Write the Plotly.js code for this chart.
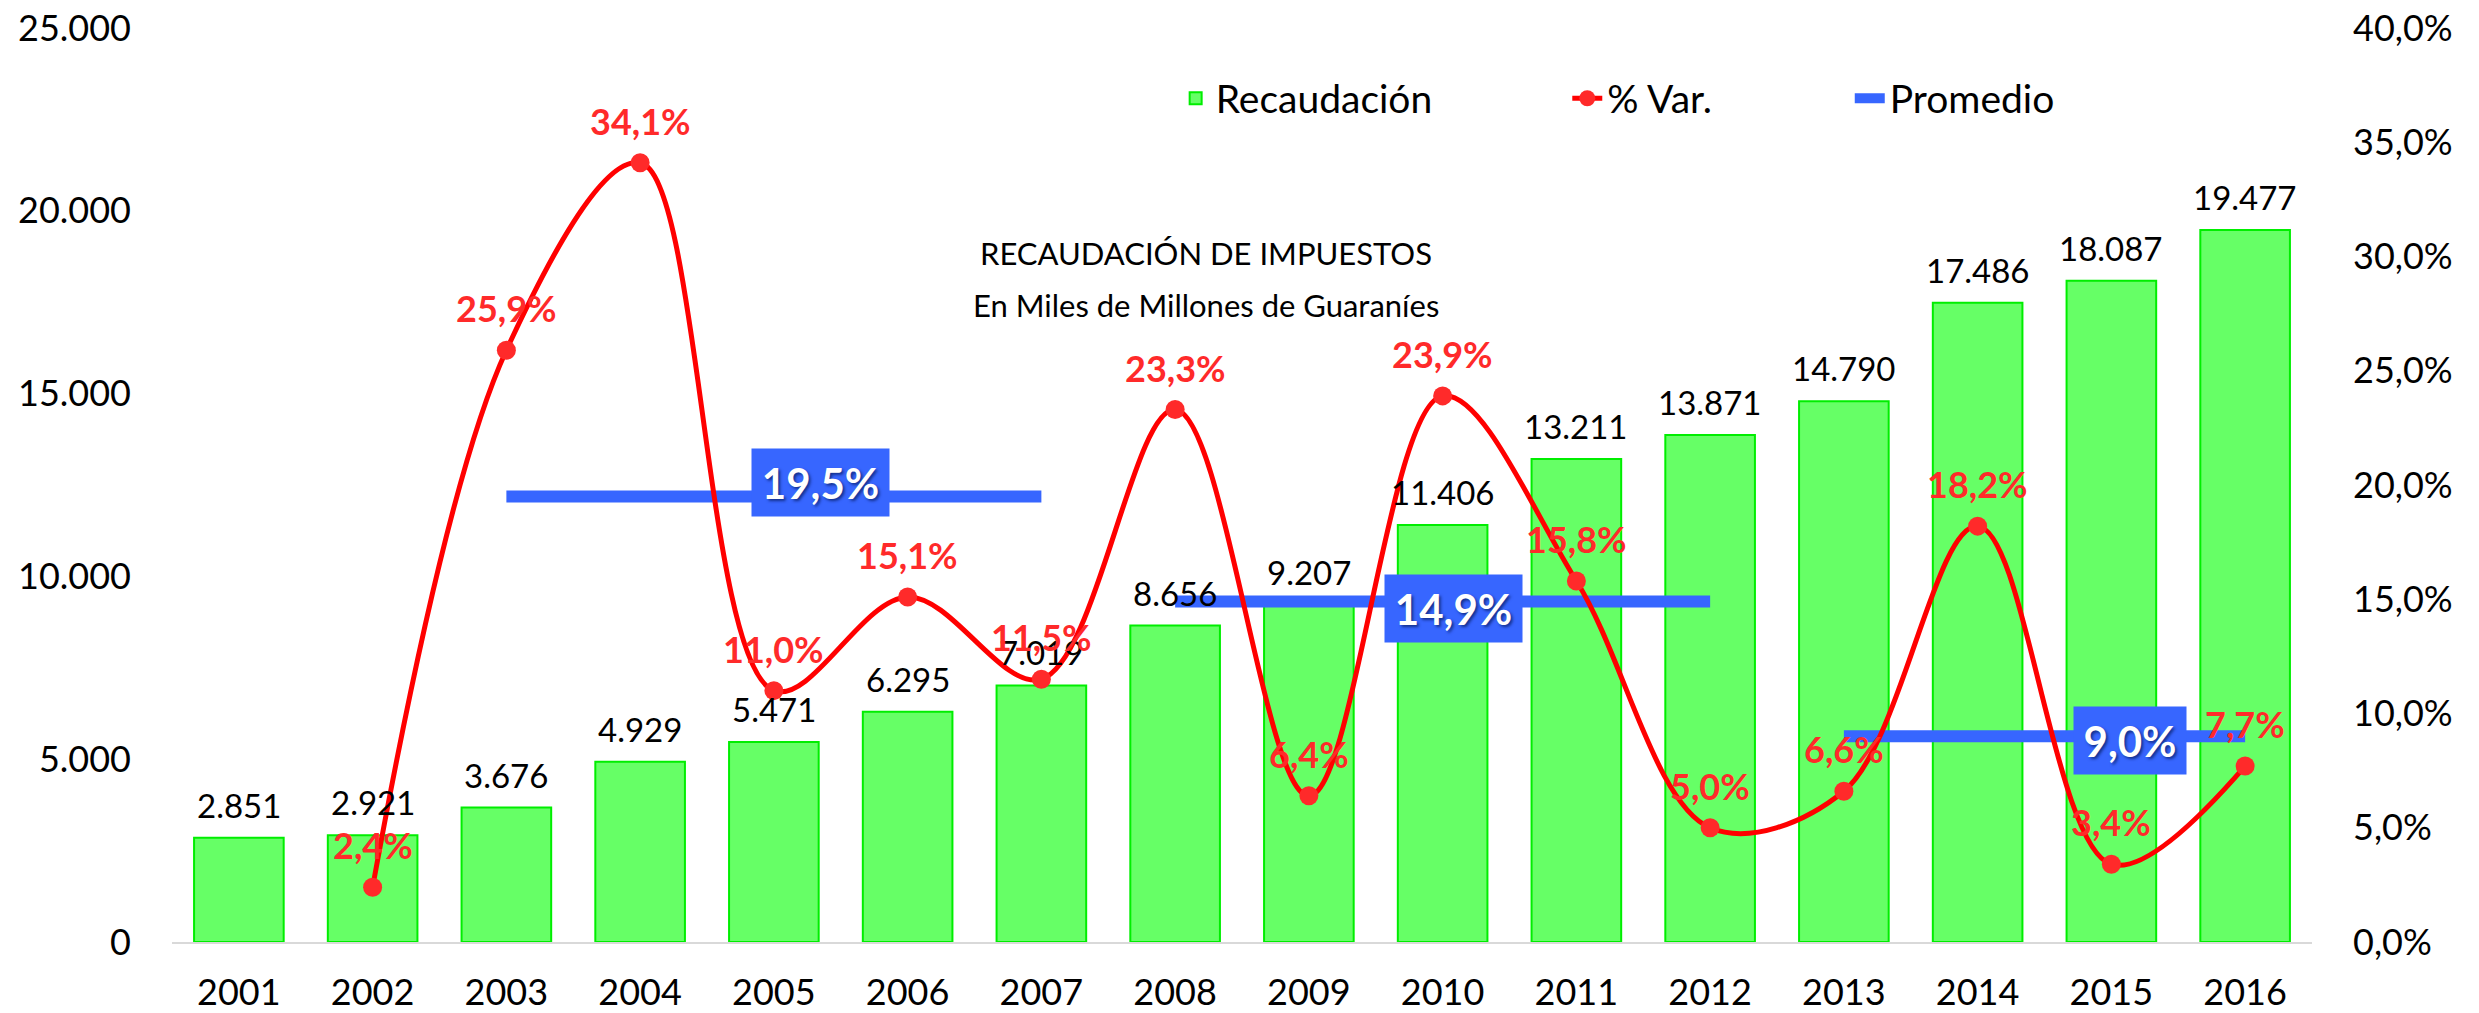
<!DOCTYPE html>
<html>
<head>
<meta charset="utf-8">
<script src="https://cdn.plot.ly/plotly-3.0.1.min.js"></script>
<style>html,body{margin:0;padding:0;background:#fff;}#chart{width:2479px;height:1013px;}</style>
</head>
<body>
<div id="chart"></div>
<script>
// ---- Data ----
const years = [2001, 2002, 2003, 2004, 2005, 2006, 2007, 2008, 2009, 2010, 2011, 2012, 2013, 2014, 2015, 2016];
const recaudacion = [2851, 2921, 3676, 4929, 5471, 6295, 7019, 8656, 9207, 11406, 13211, 13871, 14790, 17486, 18087, 19477];
const varYears = [2002, 2003, 2004, 2005, 2006, 2007, 2008, 2009, 2010, 2011, 2012, 2013, 2014, 2015, 2016];
const varPct = [2.4, 25.9, 34.1, 11.0, 15.1, 11.5, 23.3, 6.4, 23.9, 15.8, 5.0, 6.6, 18.2, 3.4, 7.7];
const promedioStart = [2003, 2008, 2013];
const promedioEnd = [2007, 2012, 2016];
const promedioValue = [19.5, 14.9, 9.0];
const leftTicks = [0, 5000, 10000, 15000, 20000, 25000];
const rightTicks = [0, 5, 10, 15, 20, 25, 30, 35, 40];
const titleText = 'RECAUDACIÓN DE IMPUESTOS';
const subtitleText = 'En Miles de Millones de Guaraníes';

// ---- Helpers ----
const FONT = 'Lato, "Open Sans", "DejaVu Sans", sans-serif';
const fmtThousands = v => String(v).replace(/\B(?=(\d{3})+(?!\d))/g, '.');
const fmtPct = v => v.toFixed(1).replace('.', ',') + '%';

// promedio segments with gaps
const promX = [], promY = [];
promedioStart.forEach((s, i) => {
  promX.push(s, promedioEnd[i], null);
  promY.push(promedioValue[i], promedioValue[i], null);
});

const traces = [
  {
    type: 'bar', x: years, y: recaudacion, name: 'Recaudación',
    marker: {color: '#66FF66', line: {color: '#00EE00', width: 2}},
    legend: 'legend', yaxis: 'y', hoverinfo: 'skip'
  },
  {
    type: 'scatter', mode: 'lines', x: promX, y: promY, name: 'Promedio',
    line: {color: '#3766FF', width: 12}, connectgaps: false,
    legend: 'legend3', yaxis: 'y2', hoverinfo: 'skip'
  },
  {
    type: 'scatter', mode: 'lines+markers', x: varYears, y: varPct, name: '% Var.',
    line: {color: '#FF0000', width: 5, shape: 'spline', smoothing: 1},
    marker: {color: '#FF2A2A', size: 19},
    legend: 'legend2', yaxis: 'y2', hoverinfo: 'skip'
  }
];

const annotations = [];
// bar value labels
years.forEach((yr, i) => {
  annotations.push({
    x: yr, y: recaudacion[i], xref: 'x', yref: 'y',
    text: fmtThousands(recaudacion[i]), showarrow: false,
    yanchor: 'middle', yshift: 33,
    font: {family: FONT, size: 33, color: '#000000'}
  });
});
// % var labels
varYears.forEach((yr, i) => {
  annotations.push({
    x: yr, y: varPct[i], xref: 'x', yref: 'y2',
    text: fmtPct(varPct[i]), showarrow: false,
    yanchor: 'middle', yshift: 42,
    font: {family: FONT, size: 36, color: '#FF2A2A', weight: 'bold'}
  });
});
// promedio labels (placed along each segment)
const promLabelXShift = [47, 11, 85];
const promLabelYShift = [14, -7, -4];
const promLabelWidth = [131, 131, 106];
promedioValue.forEach((v, i) => {
  annotations.push({
    x: (promedioStart[i] + promedioEnd[i]) / 2, y: v, xref: 'x', yref: 'y2',
    text: '<b>' + fmtPct(v) + '</b>', showarrow: false,
    xshift: promLabelXShift[i], yshift: promLabelYShift[i],
    bgcolor: '#3766FF', borderpad: 3, width: promLabelWidth[i], height: 61,
    font: {family: FONT, size: 42, color: '#FFFFFF', shadow: '2px 2px 3px rgba(0,20,80,0.65)'}
  });
});
// titles
annotations.push({
  x: 0.483, y: 0.754, xref: 'paper', yref: 'paper', showarrow: false,
  xanchor: 'center', yanchor: 'middle',
  text: titleText, font: {family: FONT, size: 31, color: '#000000'}
});
annotations.push({
  x: 0.483, y: 0.697, xref: 'paper', yref: 'paper', showarrow: false,
  xanchor: 'center', yanchor: 'middle',
  text: subtitleText, font: {family: FONT, size: 31, color: '#000000'}
});

const legendBase = {
  orientation: 'h', yanchor: 'middle', xanchor: 'left', y: 0.923,
  bgcolor: 'rgba(0,0,0,0)', font: {family: FONT, size: 39, color: '#000000'}
};

const layout = {
  width: 2479, height: 1013,
  margin: {l: 172, r: 167, t: 28, b: 71},
  paper_bgcolor: '#FFFFFF', plot_bgcolor: '#FFFFFF',
  separators: ',.',
  font: {family: FONT, size: 36, color: '#000000'},
  bargap: 0.33,
  showlegend: true,
  legend: Object.assign({}, legendBase, {x: 0.469}),
  legend2: Object.assign({}, legendBase, {x: 0.652}),
  legend3: Object.assign({}, legendBase, {x: 0.784}),
  xaxis: {
    type: 'linear', range: [2000.5, 2016.5],
    tickvals: years, ticktext: years.map(String),
    showgrid: false, zeroline: false, showline: true,
    linecolor: '#D9D9D9', linewidth: 2, ticks: '',
    ticklabelstandoff: 18, automargin: false,
    tickfont: {family: FONT, size: 36, color: '#000000'}
  },
  yaxis: {
    range: [0, 25000], tickvals: leftTicks, ticktext: leftTicks.map(fmtThousands),
    showgrid: false, zeroline: false, showline: false, ticks: '',
    ticklabelstandoff: 40, automargin: false,
    tickfont: {family: FONT, size: 36, color: '#000000'}
  },
  yaxis2: {
    overlaying: 'y', side: 'right',
    range: [0, 40], tickvals: rightTicks, ticktext: rightTicks.map(fmtPct),
    showgrid: false, zeroline: false, showline: false, ticks: '',
    ticklabelstandoff: 40, automargin: false,
    tickfont: {family: FONT, size: 36, color: '#000000'}
  },
  annotations: annotations,
  hovermode: false
};

Plotly.newPlot('chart', traces, layout, {staticPlot: true, displayModeBar: false});
</script>
</body>
</html>
